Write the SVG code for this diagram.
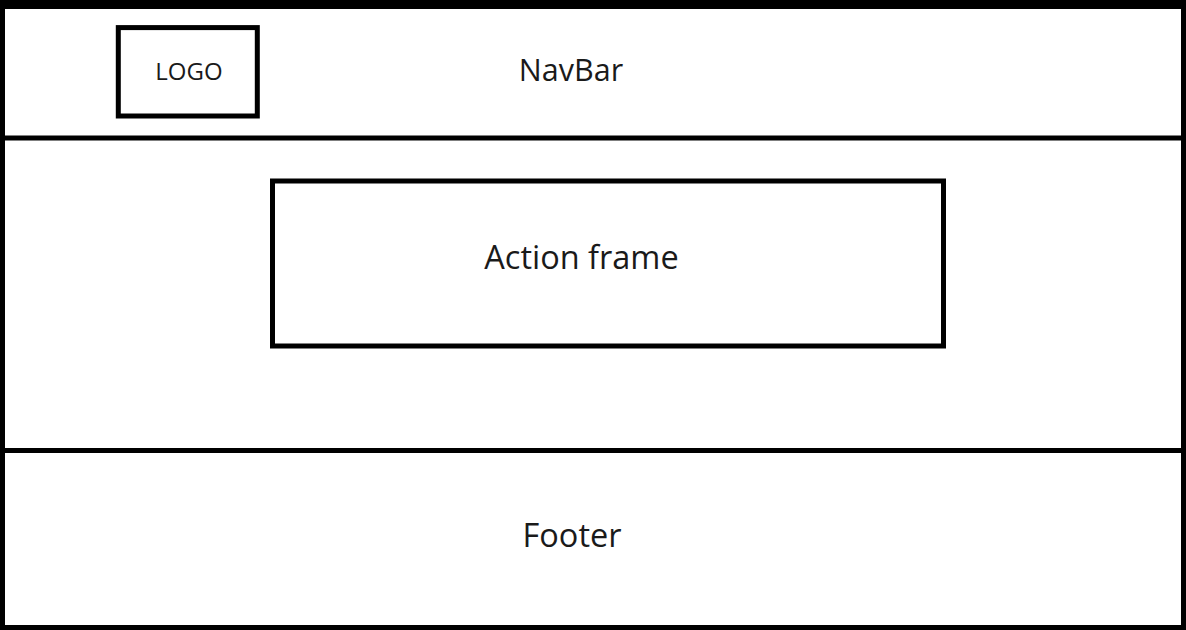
<svg xmlns="http://www.w3.org/2000/svg" width="1186" height="630" viewBox="0 0 1186 630">
  <style>
    .box { fill: none; stroke: #000; stroke-width: 5; }
    .lbl { font-family: "Open Sans", "Noto Sans", sans-serif; fill: #1a1a1a; text-anchor: middle; }
  </style>
  <rect x="0" y="0" width="1186" height="630" fill="#fff"/>
  <g id="page">
    <rect x="2.5" y="4" width="1181" height="623.5" class="box"/>
    <rect x="0" y="0" width="1186" height="9" fill="#000"/>
  </g>
  <g id="navbar">
    <line x1="0" y1="138" x2="1186" y2="138" stroke="#000" stroke-width="5"/>
    <text x="571" y="81" class="lbl" font-size="30.5">NavBar</text>
  </g>
  <g id="logo">
    <rect x="118.3" y="27.6" width="139" height="88.4" class="box" stroke-width="4.6"/>
    <text x="189" y="80" class="lbl" font-size="24">LOGO</text>
  </g>
  <g id="main">
    <line x1="0" y1="450.5" x2="1186" y2="450.5" stroke="#000" stroke-width="5"/>
  </g>
  <g id="action-frame">
    <rect x="272.5" y="181" width="671" height="165" class="box"/>
    <text x="581.5" y="269" class="lbl" font-size="32.5">Action frame</text>
  </g>
  <g id="footer">
    <text x="572" y="547" class="lbl" font-size="32.5">Footer</text>
  </g>
  <g id="connectors"/>
</svg>
